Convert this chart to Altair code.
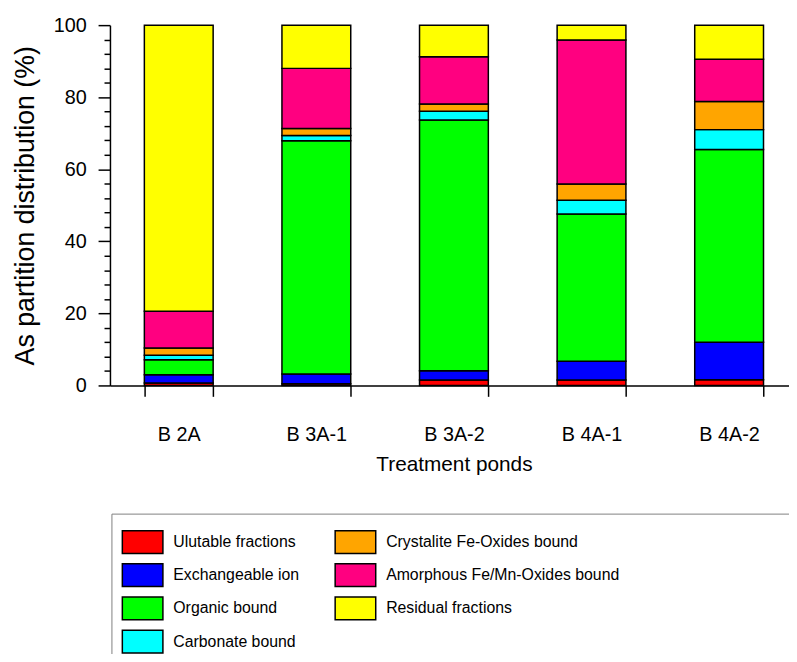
import altair as alt
import pandas as pd

ponds = ["B 2A", "B 3A-1", "B 3A-2", "B 4A-1", "B 4A-2"]

fractions = [
    "Ulutable fractions",
    "Exchangeable ion",
    "Organic bound",
    "Carbonate bound",
    "Crystalite Fe-Oxides bound",
    "Amorphous Fe/Mn-Oxides bound",
    "Residual fractions",
]
colors = ["#FF0000", "#0000FF", "#00FF00", "#00FFFF", "#FFA500", "#FF0080", "#FFFF00"]

ulutable = [0.7, 0.5, 1.5, 1.5, 1.6]
exchangeable = [2.3, 2.7, 2.6, 5.2, 10.4]
organic = [4.1, 64.7, 69.6, 40.9, 53.5]
carbonate = [1.3, 1.5, 2.4, 3.8, 5.5]
crystalite = [2.0, 1.9, 2.0, 4.5, 7.8]
amorphous = [10.2, 16.7, 13.1, 40.0, 11.7]
residual = [79.4, 12.0, 8.8, 4.1, 9.5]

series = [ulutable, exchangeable, organic, carbonate, crystalite, amorphous, residual]

rows = []
for i, (name, vals) in enumerate(zip(fractions, series)):
    for p, v in zip(ponds, vals):
        rows.append({"pond": p, "fraction": name, "value": v, "idx": i})
df = pd.DataFrame(rows)

FONT = "Liberation Sans"
y_ticks = list(range(0, 101, 4))

bars = alt.Chart(df).mark_bar(stroke="black", strokeWidth=1.5).encode(
    x=alt.X(
        "pond:N",
        sort=ponds,
        scale=alt.Scale(range=[0, 695], paddingInner=0.5, paddingOuter=0.25),
        axis=alt.Axis(
            title="Treatment ponds",
            labelAngle=0,
            tickBand="extent",
            tickSize=11,
            tickWidth=1.5,
            tickColor="black",
            domainColor="black",
            domainWidth=1.5,
            labelFontSize=20,
            labelPadding=29,
            titleFontSize=21,
            titleFontWeight="normal",
            titlePadding=9,
            labelColor="black",
            titleColor="black",
            labelFont=FONT,
            titleFont=FONT,
        ),
    ),
    y=alt.Y(
        "value:Q",
        stack="zero",
        scale=alt.Scale(domain=[0, 100], nice=False),
        axis=alt.Axis(
            title="As partition distribution (%)",
            values=y_ticks,
            labelExpr="datum.value % 20 === 0 ? datum.label : ''",
            tickSize={"condition": {"test": "datum.value % 20 === 0", "value": 12}, "value": 6},
            tickWidth=1.5,
            tickColor="black",
            domainColor="black",
            domainWidth=1.5,
            grid=False,
            labelFontSize=20,
            labelPadding=12,
            titleFontSize=27,
            titleFontWeight="normal",
            titlePadding=14,
            labelColor="black",
            titleColor="black",
            labelFont=FONT,
            titleFont=FONT,
        ),
    ),
    color=alt.Color(
        "fraction:N",
        scale=alt.Scale(domain=fractions, range=colors),
        legend=alt.Legend(
            title=None,
            orient="none",
            legendX=12,
            legendY=501,
            columns=2,
            columnPadding=32,
            rowPadding=3.6,
            padding=10,
            labelFontSize=16,
            labelFont=FONT,
            labelColor="black",
            labelOffset=20,
            labelLimit=400,
            symbolType="M-2,-1.12H2V1.12H-2Z",
            symbolSize=420,
            symbolStrokeColor="black",
            symbolStrokeWidth=1.5,
            symbolOpacity=1,
        ),
    ),
    order=alt.Order("idx:Q", sort="ascending"),
)

frame = alt.Chart(alt.Data(values=[{"a": 1}])).mark_rect(
    fillOpacity=0, stroke="#808080", strokeWidth=1
).encode(
    x=alt.value(2), x2=alt.value(900), y=alt.value(494), y2=alt.value(900)
)

chart = alt.layer(bars, frame).properties(
    width=686,
    height=364,
    autosize="none",
    padding={"left": 103, "top": 14, "right": 0, "bottom": 268},
).configure_view(stroke=None)

chart.save("out.html", embed_options={"renderer": "svg", "actions": False})
